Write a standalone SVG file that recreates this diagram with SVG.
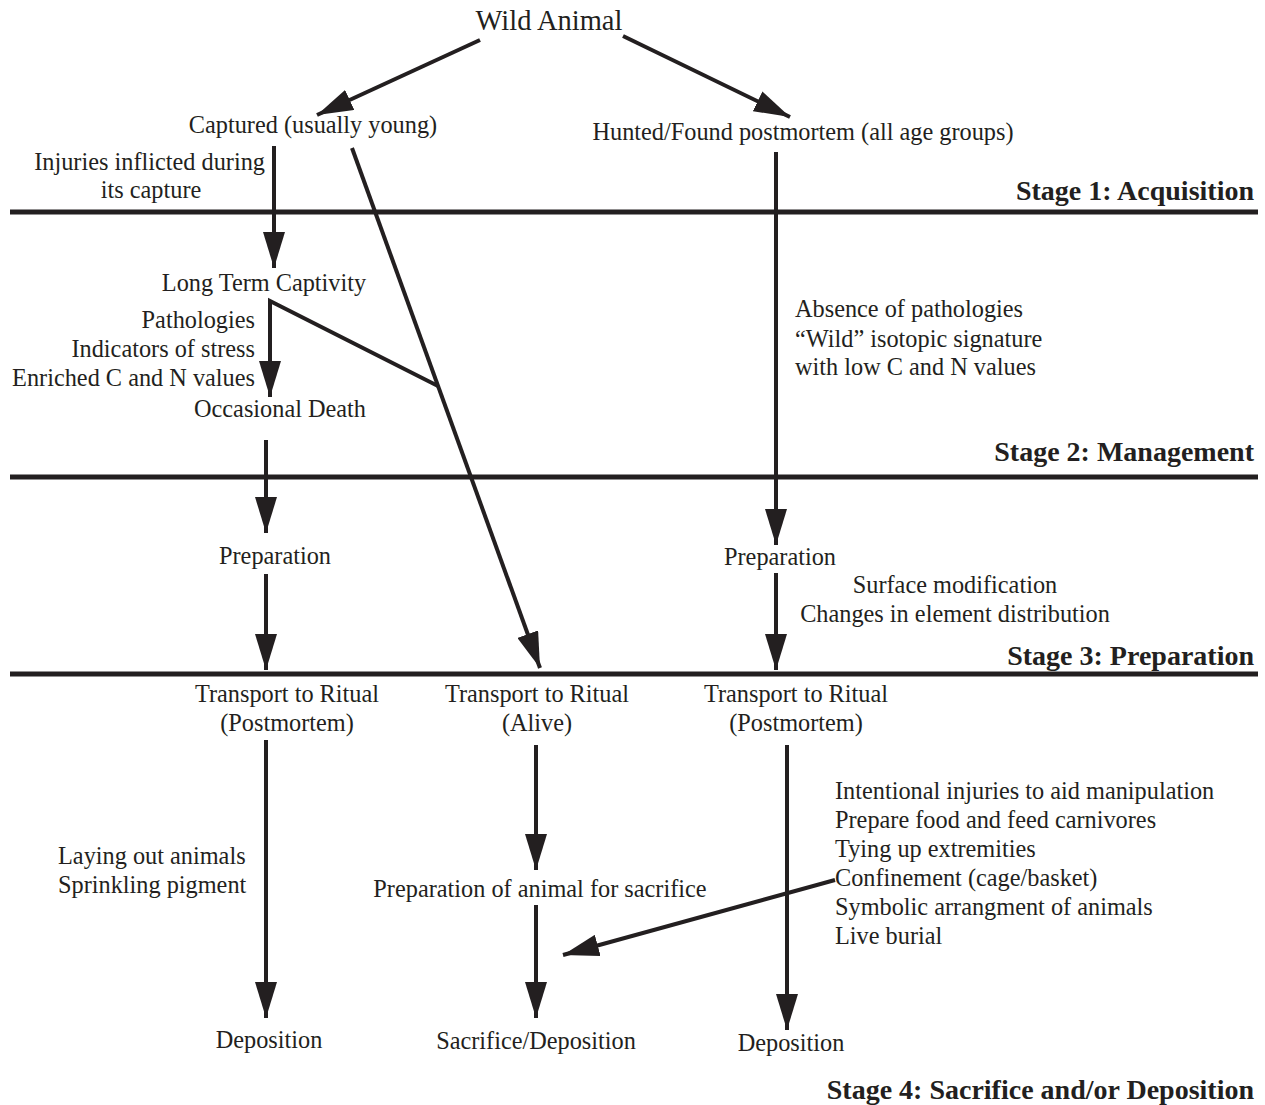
<svg xmlns="http://www.w3.org/2000/svg" width="1265" height="1105" viewBox="0 0 1265 1105">
<defs>
<marker id="ah" viewBox="0 0 36 22" refX="36" refY="11" markerWidth="36" markerHeight="22" markerUnits="userSpaceOnUse" orient="auto">
<path d="M0,0 L36,11 L0,22 Z" fill="#231f20"/>
</marker>
<style>
text{font-family:"Liberation Serif","Times New Roman",serif;font-size:24.3px;fill:#231f20}
.c{text-anchor:middle}
.r{text-anchor:end}
.st{font-weight:bold;font-size:28px;text-anchor:end}
.t{font-size:28.5px}
.ln{stroke:#231f20;stroke-width:4;fill:none}
.ar{stroke:#231f20;stroke-width:4;fill:none;marker-end:url(#ah)}
.hl{stroke:#231f20;stroke-width:5}
</style>
</defs>
<rect width="1265" height="1105" fill="#fff"/>
<g id="stages">
<line class="hl" x1="10" y1="212" x2="1258" y2="212"/>
<line class="hl" x1="10" y1="477" x2="1258" y2="477"/>
<line class="hl" x1="10" y1="674" x2="1258" y2="674"/>
<text class="st" x="1254" y="200">Stage 1: Acquisition</text>
<text class="st" x="1254" y="461">Stage 2: Management</text>
<text class="st" x="1254" y="665">Stage 3: Preparation</text>
<text class="st" x="1254" y="1099">Stage 4: Sacrifice and/or Deposition</text>
</g>
<g id="connectors">
<line class="ar" x1="480" y1="40" x2="317" y2="115"/>
<line class="ar" x1="623" y1="36" x2="790" y2="117"/>
<line class="ar" x1="274" y1="146" x2="274" y2="268"/>
<line class="ar" x1="352" y1="148" x2="540" y2="668"/>
<polyline class="ln" points="438,386 270,301 270,320"/>
<line class="ar" x1="270" y1="301" x2="270" y2="397"/>
<line class="ar" x1="266" y1="440" x2="266" y2="533"/>
<line class="ar" x1="266" y1="574" x2="266" y2="670"/>
<line class="ar" x1="776" y1="152" x2="776" y2="545"/>
<line class="ar" x1="776" y1="573" x2="776" y2="670"/>
<line class="ar" x1="266" y1="740" x2="266" y2="1018"/>
<line class="ar" x1="536" y1="745" x2="536" y2="870"/>
<line class="ar" x1="536" y1="905" x2="536" y2="1018"/>
<line class="ar" x1="787" y1="745" x2="787" y2="1030"/>
<line class="ar" x1="835" y1="880" x2="563" y2="955"/>
</g>
<g id="wild"><text class="c t" x="549" y="30">Wild Animal</text></g>
<g id="captured"><text class="c" x="313" y="133">Captured (usually young)</text></g>
<g id="hunted"><text class="c" x="803" y="140">Hunted/Found postmortem (all age groups)</text></g>
<g id="injuries">
<text class="r" x="265" y="170">Injuries inflicted during</text>
<text class="c" x="151" y="198">its capture</text>
</g>
<g id="captivity"><text class="c" x="264" y="291">Long Term Captivity</text></g>
<g id="pathologies">
<text class="r" x="255" y="328">Pathologies</text>
<text class="r" x="255" y="357">Indicators of stress</text>
<text class="r" x="255" y="386">Enriched C and N values</text>
</g>
<g id="death"><text class="c" x="280" y="417">Occasional Death</text></g>
<g id="absence">
<text x="795" y="317">Absence of pathologies</text>
<text x="795" y="347">“Wild” isotopic signature</text>
<text x="795" y="375">with low C and N values</text>
</g>
<g id="prep-left"><text class="c" x="275" y="564">Preparation</text></g>
<g id="prep-right"><text class="c" x="780" y="565">Preparation</text></g>
<g id="surface">
<text class="c" x="955" y="593">Surface modification</text>
<text class="c" x="955" y="622">Changes in element distribution</text>
</g>
<g id="transport-left">
<text class="c" x="287" y="702">Transport to Ritual</text>
<text class="c" x="287" y="731">(Postmortem)</text>
</g>
<g id="transport-mid">
<text class="c" x="537" y="702">Transport to Ritual</text>
<text class="c" x="537" y="731">(Alive)</text>
</g>
<g id="transport-right">
<text class="c" x="796" y="702">Transport to Ritual</text>
<text class="c" x="796" y="731">(Postmortem)</text>
</g>
<g id="laying">
<text x="58" y="864">Laying out animals</text>
<text x="58" y="893">Sprinkling pigment</text>
</g>
<g id="prep-sacrifice"><text class="c" x="540" y="897">Preparation of animal for sacrifice</text></g>
<g id="list">
<text x="835" y="799">Intentional injuries to aid manipulation</text>
<text x="835" y="828">Prepare food and feed carnivores</text>
<text x="835" y="857">Tying up extremities</text>
<text x="835" y="886">Confinement (cage/basket)</text>
<text x="835" y="915">Symbolic arrangment of animals</text>
<text x="835" y="944">Live burial</text>
</g>
<g id="dep-left"><text class="c" x="269" y="1048">Deposition</text></g>
<g id="dep-mid"><text class="c" x="536" y="1049">Sacrifice/Deposition</text></g>
<g id="dep-right"><text class="c" x="791" y="1051">Deposition</text></g>
</svg>
